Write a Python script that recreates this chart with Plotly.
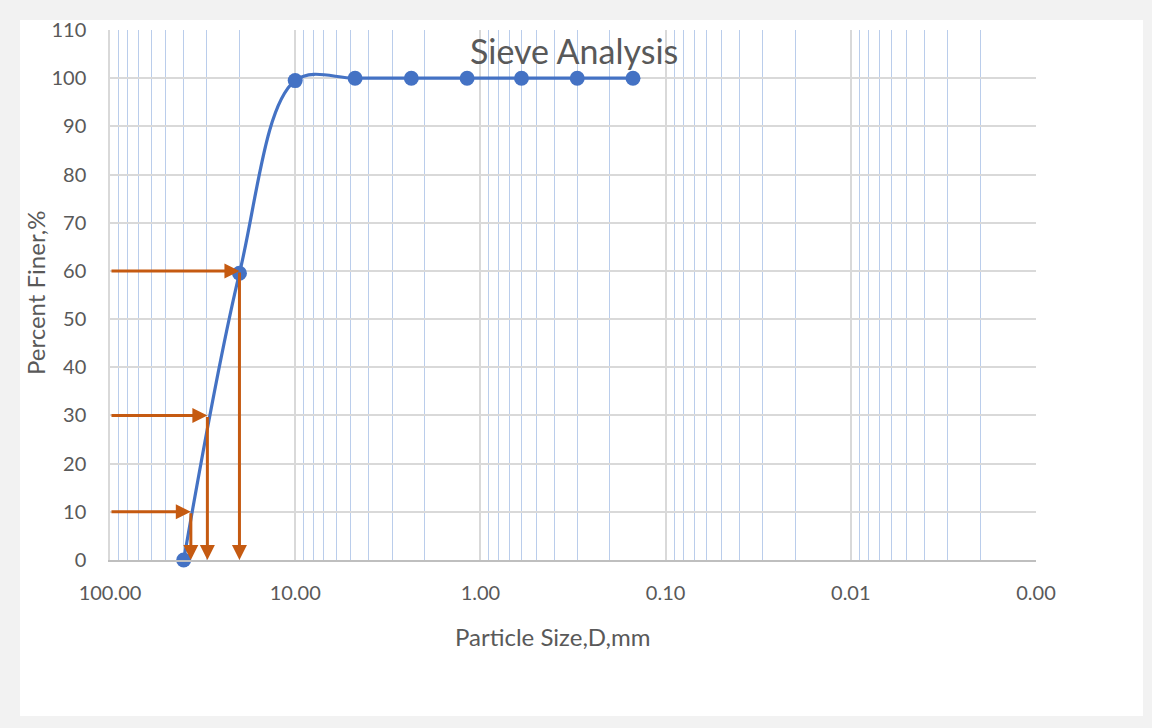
import math
import plotly.graph_objects as go

# ---- data ----
sieve_size_mm = [40.0, 20.0, 10.0, 4.75, 2.36, 1.18, 0.6, 0.3, 0.15]
percent_finer = [0.0, 59.5, 99.5, 100.0, 100.0, 100.0, 100.0, 100.0, 100.0]

d_levels = [10, 30, 60]            # percent finer levels
d_values = [36.6, 29.8, 20.0]      # D10, D30, D60 (mm)

x_tick_vals = [100, 10, 1, 0.1, 0.01, 0.001]
x_tick_text = ["100.00", "10.00", "1.00", "0.10", "0.01", "0.00"]
y_tick_vals = list(range(0, 111, 10))

# ---- style ----
TEXT = "#595959"
FONT = "Lato"
BLUE = "#4472C4"
ORANGE = "#C55A11"
GRID = "#D9D9D9"
MINOR = "#BACDEB"

W, H = 1152, 728
L, R, T, B = 110, 116, 30, 168
pw, ph = W - L - R, H - T - B

minor_vals = [m * 10 ** k for k in range(-3, 2) for m in range(2, 10)]

fig = go.Figure()
fig.add_trace(go.Scatter(
    x=sieve_size_mm, y=percent_finer, mode="lines+markers",
    line=dict(color=BLUE, width=3.2, shape="spline", smoothing=1.0),
    marker=dict(color=BLUE, size=15),
    showlegend=False, cliponaxis=False,
))

annotations = []
x_left = math.log10(100)
for lvl, d in zip(d_levels, d_values):
    xd = math.log10(d)
    annotations.append(dict(x=xd, y=lvl, xref="x", yref="y", ax=x_left, ay=lvl,
                            axref="x", ayref="y", text="", showarrow=True,
                            arrowhead=2, arrowsize=1, arrowwidth=3, arrowcolor=ORANGE))
    annotations.append(dict(x=xd, y=0, xref="x", yref="y", ax=xd, ay=lvl,
                            axref="x", ayref="y", text="", showarrow=True,
                            arrowhead=2, arrowsize=1, arrowwidth=3, arrowcolor=ORANGE))


def px_annot(text, xpx, ypx, size, angle=0):
    return dict(text=text, x=(xpx - L) / pw, y=(H - B - ypx) / ph,
                xref="paper", yref="paper", showarrow=False, textangle=angle,
                xanchor="center", yanchor="middle",
                font=dict(family=FONT, size=size, color=TEXT))


annotations.append(px_annot("Sieve Analysis", 574, 50, 34))
annotations.append(px_annot("Particle Size,D,mm", 552, 636, 24))
annotations.append(px_annot("Percent Finer,%", 35, 293, 24, -90))

shapes = [dict(type="rect", xref="paper", yref="paper", layer="below",
               x0=(20 - L) / pw, x1=(1143 - L) / pw,
               y0=(H - B - 716) / ph, y1=(H - B - 20) / ph,
               fillcolor="white", line=dict(width=0))]

fig.update_layout(
    width=W, height=H,
    margin=dict(l=L, r=R, t=T, b=B),
    paper_bgcolor="#F2F2F2", plot_bgcolor="white",
    font=dict(family=FONT, color=TEXT, size=20),
    annotations=annotations, shapes=shapes,
    xaxis=dict(type="log", range=[2, -3], tickmode="array",
               tickvals=x_tick_vals, ticktext=x_tick_text,
               showgrid=True, gridcolor=GRID, gridwidth=1.5,
               showline=True, linecolor="#BFBFBF", linewidth=1.5,
               ticks="", ticklabelstandoff=14, zeroline=False,
               minor=dict(tickmode="array", tickvals=minor_vals, showgrid=True,
                          gridcolor=MINOR, gridwidth=1.3, ticks=""),
               tickfont=dict(family=FONT, size=20, color=TEXT)),
    yaxis=dict(range=[0, 110], tickmode="array", tickvals=y_tick_vals,
               showgrid=True, gridcolor=GRID, gridwidth=1.5,
               showline=True, linecolor="#D9D9D9", linewidth=1.5,
               ticks="", ticklabelstandoff=18, zeroline=False,
               tickfont=dict(family=FONT, size=20, color=TEXT)),
)

fig.write_html("out.html", config={"displayModeBar": False},
               post_script="document.body.style.margin='0';")
